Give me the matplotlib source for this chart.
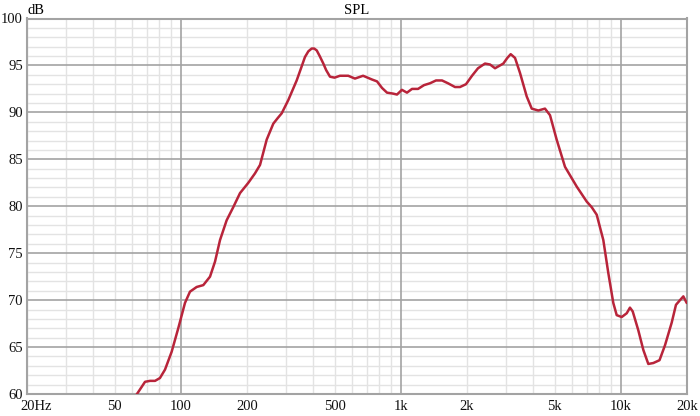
import numpy as np
import matplotlib
matplotlib.use("Agg")
import matplotlib.pyplot as plt
from matplotlib.ticker import FixedLocator, NullFormatter
import matplotlib.transforms as mtransforms

freq = [62, 68.8, 72.5, 76.4, 80.4, 84.8, 90.9, 97.4, 104.5, 110.1, 118.1, 126.6, 135.8,
        143.1, 150.8, 161.6, 173.2, 185.9, 202.8, 217.4, 229.2, 245.8, 263.4, 276, 287.6, 308,
        336.4, 352, 366.9, 380, 393.6, 404, 414.9, 428, 444.6, 458, 476.8, 500, 529, 577, 619, 674, 740, 780, 822, 866,
        922, 961, 1012, 1067, 1125, 1198, 1275, 1358, 1446, 1540, 1639, 1764, 1859, 1979,
        2108, 2244, 2414, 2545, 2682, 2925, 3050, 3160, 3306, 3483, 3736, 3938, 4218, 4524, 4768,
        5112, 5578, 6304, 7000, 7377, 7773, 8330, 8775, 9247, 9583, 10100, 10640, 11010,
        11330, 12010, 12660, 13340, 14060, 15000, 15890, 17040, 17820, 18590, 19250, 19930]
spl = [59.7, 61.3, 61.4, 61.4, 61.7, 62.6, 64.5, 67.0, 69.7, 70.9, 71.4, 71.6, 72.5,
       74.1, 76.4, 78.5, 79.9, 81.4, 82.5, 83.5, 84.4, 87.1, 88.8, 89.4, 89.9, 91.3,
       93.4, 94.7, 95.9, 96.5, 96.8, 96.8, 96.6, 96.0, 95.2, 94.5, 93.8, 93.7, 93.9, 93.9, 93.6, 93.9, 93.5, 93.3, 92.6, 92.1,
       92.0, 91.9, 92.4, 92.1, 92.5, 92.5, 92.9, 93.1, 93.4, 93.4, 93.1, 92.7, 92.7, 93.0,
       93.9, 94.7, 95.2, 95.1, 94.7, 95.2, 95.8, 96.2, 95.8, 94.2, 91.7, 90.4, 90.2, 90.4, 89.7,
       87.1, 84.2, 82.1, 80.5, 79.9, 79.1, 76.4, 72.9, 69.7, 68.4, 68.2, 68.6, 69.2,
       68.8, 66.8, 64.7, 63.2, 63.3, 63.6, 65.2, 67.6, 69.5, 70.0, 70.4, 69.7]

xticks = [20, 50, 100, 200, 500, 1000, 2000, 5000, 10000, 20000]
xticklabels = ["20Hz", "50", "100", "200", "500", "1k", "2k", "5k", "10k", "20k"]
yticks = [60, 65, 70, 75, 80, 85, 90, 95, 100]

plt.rcParams['font.family'] = ['Liberation Serif', 'DejaVu Serif']

fig = plt.figure(figsize=(7.0, 4.16), dpi=100)
ax = fig.add_axes([27/700, 1-394/416, 660/700, 375.5/416])
ax.set_xscale('log')
ax.set_xlim(20, 20000)
ax.set_ylim(60, 100)

minor_x = [v * d for d in (10, 100, 1000) for v in range(2, 10)] + [20000]
minor_x = [m for m in minor_x if 20 <= m <= 20000]
for m in minor_x:
    ax.axvline(m, color='#e3e3e3', lw=1.0, zorder=1)
for y in range(60, 101):
    if y % 5:
        ax.axhline(y, color='#e3e3e3', lw=1.0, zorder=1)
for y in yticks:
    ax.axhline(y, color='#a3a3a3', lw=1.2, zorder=2)
for m in (100, 1000, 10000):
    ax.axvline(m, color='#a3a3a3', lw=1.2, zorder=2)

ax.plot(freq, spl, color='#b8243a', lw=1.8, zorder=5, clip_on=True,
        solid_joinstyle='round', solid_capstyle='round')

ax.xaxis.set_major_locator(FixedLocator(xticks))
ax.set_xticklabels(xticklabels)
ax.xaxis.set_minor_formatter(NullFormatter())
ax.xaxis.set_minor_locator(FixedLocator([]))
ax.set_yticks(yticks)
ax.tick_params(axis='both', length=0, labelsize=10.5, colors='#111111')
ax.tick_params(axis='x', pad=4)
ax.tick_params(axis='y', pad=3)

lbl0 = ax.get_xticklabels()[0]
lbl0.set_transform(lbl0.get_transform() + mtransforms.ScaledTranslation(9/100, 0, fig.dpi_scale_trans))

for s in ax.spines.values():
    s.set_color('#a3a3a3')
    s.set_linewidth(1.5)

ax.text(0.5, 1.005, "SPL", transform=ax.transAxes, ha='center', va='bottom', fontsize=10.5)
ax.text(0.0, 1.005, "dB", transform=ax.transAxes, ha='left', va='bottom', fontsize=10.5)

fig.savefig("out.png", dpi=100)
